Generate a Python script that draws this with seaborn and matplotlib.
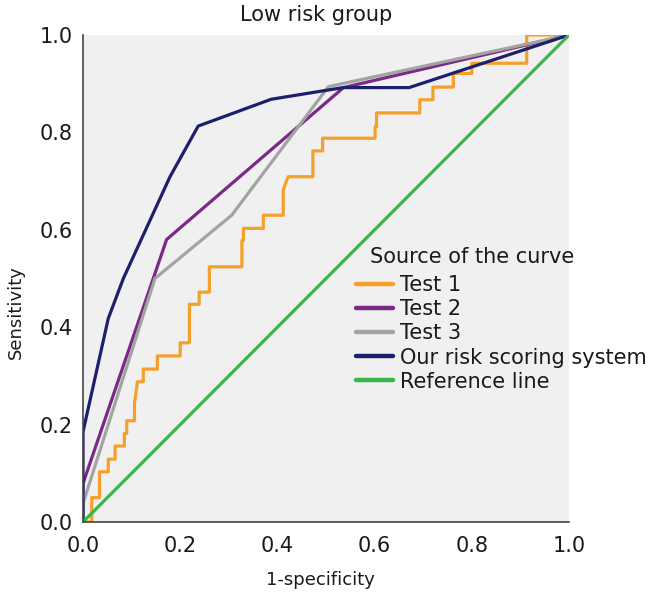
import matplotlib
matplotlib.use("Agg")
import matplotlib.pyplot as plt
import pandas as pd
import seaborn as sns

# ROC curves, low risk group
test1_x = [0.0, 0.018, 0.018, 0.034, 0.034, 0.052, 0.052, 0.066, 0.066, 0.085, 0.085, 0.090, 0.090,
           0.106, 0.106, 0.112, 0.124, 0.124, 0.153, 0.153, 0.200, 0.200, 0.219, 0.219, 0.239, 0.239,
           0.260, 0.260, 0.327, 0.327, 0.330, 0.330, 0.371, 0.371, 0.412, 0.412, 0.422, 0.473, 0.473,
           0.493, 0.493, 0.601, 0.601, 0.604, 0.604, 0.693, 0.693, 0.720, 0.720, 0.762, 0.762, 0.800,
           0.800, 0.913, 0.913, 1.0]
test1_y = [0.0, 0.0, 0.050, 0.050, 0.103, 0.103, 0.129, 0.129, 0.156, 0.156, 0.182, 0.182, 0.208,
           0.208, 0.244, 0.288, 0.288, 0.314, 0.314, 0.341, 0.341, 0.368, 0.368, 0.447, 0.447, 0.472,
           0.472, 0.524, 0.524, 0.578, 0.578, 0.603, 0.603, 0.630, 0.630, 0.682, 0.709, 0.709, 0.762,
           0.762, 0.788, 0.788, 0.812, 0.812, 0.840, 0.840, 0.867, 0.867, 0.893, 0.893, 0.921, 0.921,
           0.942, 0.942, 1.0, 1.0]

test2_x = [0.0, 0.0, 0.172, 0.536, 1.0]
test2_y = [0.0, 0.079, 0.580, 0.892, 1.0]

test3_x = [0.0, 0.0, 0.148, 0.306, 0.505, 1.0]
test3_y = [0.0, 0.038, 0.500, 0.630, 0.894, 1.0]

ours_x = [0.0, 0.0, 0.052, 0.083, 0.179, 0.237, 0.387, 0.535, 0.671, 1.0]
ours_y = [0.0, 0.185, 0.418, 0.500, 0.709, 0.813, 0.868, 0.892, 0.892, 1.0]

ref_x = [0.0, 1.0]
ref_y = [0.0, 1.0]

curve_names = ["Test 1", "Test 2", "Test 3", "Our risk scoring system", "Reference line"]
curve_colors = ["#F6A02C", "#7B2986", "#A3A3A3", "#1D1F6C", "#3AB54A"]
xticks = [0.0, 0.2, 0.4, 0.6, 0.8, 1.0]

frames = []
for name, xs, ys in zip(curve_names,
                        [test1_x, test2_x, test3_x, ours_x, ref_x],
                        [test1_y, test2_y, test3_y, ours_y, ref_y]):
    frames.append(pd.DataFrame({"fpr": xs, "tpr": ys, "curve": name}))
df = pd.concat(frames, ignore_index=True)

sns.set_style("white")
plt.rcParams["font.family"] = ["DejaVu Sans"]

fig = plt.figure(figsize=(6.59, 6.0), dpi=100)
ax = fig.add_axes([83 / 659, 78 / 600, 486 / 659, 487 / 600])
ax.set_facecolor("#F0F0F0")

sns.lineplot(data=df, x="fpr", y="tpr", hue="curve", hue_order=curve_names,
             palette=dict(zip(curve_names, curve_colors)),
             estimator=None, sort=False, linewidth=2.3, ax=ax, legend=False)

ax.set_xlim(0, 1)
ax.set_ylim(0, 1)
ax.set_xticks(xticks)
ax.set_yticks(xticks)
ax.set_xticklabels([f"{t:.1f}" for t in xticks])
ax.set_yticklabels([f"{t:.1f}" for t in xticks])
ax.tick_params(direction="in", length=6.5, width=1, color="#555555", labelsize=15,
               labelcolor="#1a1a1a")
ax.tick_params(axis="y", pad=7.2)
ax.tick_params(axis="x", pad=10)

for s in ["top", "right"]:
    ax.spines[s].set_visible(False)
for s in ["left", "bottom"]:
    ax.spines[s].set_color("#444444")
    ax.spines[s].set_linewidth(1.2)

ax.set_xlabel("1-specificity", fontsize=13, color="#1a1a1a")
ax.set_ylabel("Sensitivity", fontsize=13, color="#1a1a1a")
ax.xaxis.set_label_coords(0.488, -0.101)
ax.yaxis.set_label_coords(-0.119, 0.431)
ax.set_title("Low risk group", fontsize=15, x=0.48, pad=10, color="#1a1a1a")

handles = [plt.Line2D([], [], color=c, linewidth=3.2) for c in curve_colors]
leg = ax.legend(handles, curve_names, loc="upper left", bbox_to_anchor=(0.5617, 0.507),
                frameon=False, fontsize=15, labelspacing=0.2, handlelength=1.8,
                handletextpad=0.33, borderpad=0, borderaxespad=0)
for t in leg.get_texts():
    t.set_color("#1a1a1a")
ax.text(0.5905, 0.532, "Source of the curve", transform=ax.transAxes, fontsize=15,
        va="baseline", ha="left", color="#1a1a1a")

fig.savefig("out.png", dpi=100)
